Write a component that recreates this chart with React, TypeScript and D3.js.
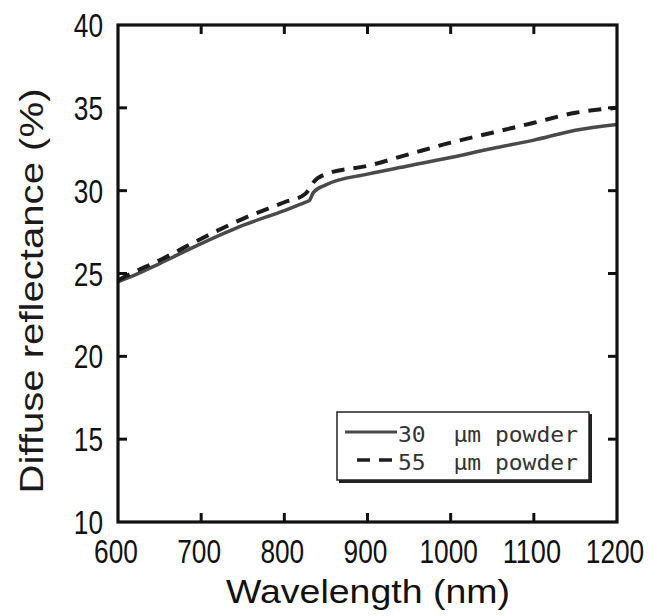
import React from "react";
import * as d3 from "d3";

const wavelengths = [600, 620, 650, 700, 750, 800, 825, 830, 835, 850, 900, 950, 1000, 1050, 1100, 1150, 1200];
const powder30 = [24.5, 24.9, 25.6, 26.8, 27.9, 28.8, 29.3, 29.4, 29.9, 30.35, 31.0, 31.5, 32.0, 32.55, 33.05, 33.65, 34.0];
const powder55 = [24.6, 25.1, 25.8, 27.1, 28.3, 29.3, 29.8, 30.1, 30.5, 31.0, 31.5, 32.2, 32.9, 33.5, 34.1, 34.7, 35.0];
const xTicks = [600, 700, 800, 900, 1000, 1100, 1200];
const yTicks = [10, 15, 20, 25, 30, 35, 40];
const seriesNames = ["30  μm powder", "55  μm powder"];

const W = 651;
const H = 616;
const L = 118, R = 617, T = 25, B = 522;

export default function App() {
  const x = d3.scaleLinear().domain([600, 1200]).range([L, R]);
  const y = d3.scaleLinear().domain([10, 40]).range([B, T]);
  const line = d3
    .line<[number, number]>()
    .x((d) => x(d[0]))
    .y((d) => y(d[1]))
    .curve(d3.curveMonotoneX);
  const d30 = line(wavelengths.map((w, i) => [w, powder30[i]] as [number, number])) || "";
  const d55 = line(wavelengths.map((w, i) => [w, powder55[i]] as [number, number])) || "";
  const tickLen = 9;
  const tickFont = "'Liberation Sans', Arial, sans-serif";
  const digitW = 14.6;

  return (
    <svg
      width={W}
      height={H}
      style={{ position: "absolute", left: 0, top: 0, background: "#fff" }}
    >
      <rect x={0} y={0} width={W} height={H} fill="#fff" />
      <defs>
        <clipPath id="plot">
          <rect x={L} y={T} width={R - L} height={B - T} />
        </clipPath>
      </defs>
      {/* lines */}
      <g clipPath="url(#plot)">
        <path d={d30} fill="none" stroke="#4a4a4a" strokeWidth={3.5} />
        <path d={d55} fill="none" stroke="#1c1c1c" strokeWidth={4} strokeDasharray="13 9" />
      </g>
      {/* ticks */}
      {xTicks.slice(1, -1).map((t) => (
        <g key={"xt" + t}>
          <line x1={x(t)} x2={x(t)} y1={B} y2={B - tickLen} stroke="#111" strokeWidth={3} />
          <line x1={x(t)} x2={x(t)} y1={T} y2={T + tickLen} stroke="#111" strokeWidth={3} />
        </g>
      ))}
      {yTicks.slice(1, -1).map((t) => (
        <g key={"yt" + t}>
          <line x1={L} x2={L + tickLen} y1={y(t)} y2={y(t)} stroke="#111" strokeWidth={3} />
          <line x1={R} x2={R - tickLen} y1={y(t)} y2={y(t)} stroke="#111" strokeWidth={3} />
        </g>
      ))}
      {/* frame */}
      <rect x={L} y={T} width={R - L} height={B - T} fill="none" stroke="#111" strokeWidth={3.2} />
      {/* tick labels */}
      {yTicks.map((t) => (
        <text
          key={"yl" + t}
          x={103}
          y={y(t) + 12}
          textAnchor="end"
          fontFamily={tickFont}
          fontSize={34}
          fill="#111"
          textLength={String(t).length * digitW}
          lengthAdjust="spacingAndGlyphs"
        >
          {t}
        </text>
      ))}
      {xTicks.map((t) => (
        <text
          key={"xl" + t}
          x={x(t) - 2}
          y={563}
          textAnchor="middle"
          fontFamily={tickFont}
          fontSize={34}
          fill="#111"
          textLength={String(t).length * digitW}
          lengthAdjust="spacingAndGlyphs"
        >
          {t}
        </text>
      ))}
      {/* axis titles */}
      <text
        transform={`translate(43, 291) rotate(-90)`}
        textAnchor="middle"
        fontFamily="'Liberation Sans', Arial, sans-serif"
        fontSize={34}
        fill="#1a1a1a"
        textLength={405}
        lengthAdjust="spacingAndGlyphs"
      >
        Diffuse reflectance (%)
      </text>
      <text
        x={368}
        y={603}
        textAnchor="middle"
        fontFamily="'Liberation Sans', Arial, sans-serif"
        fontSize={33}
        fill="#111"
        textLength={284}
        lengthAdjust="spacingAndGlyphs"
      >
        Wavelength (nm)
      </text>
      {/* legend */}
      <rect x={339} y={414} width={253} height={69} fill="#222" />
      <rect x={337} y={412} width={252} height={68} fill="#fff" stroke="#222" strokeWidth={1.5} />
      <line x1={345} x2={397} y1={432} y2={432} stroke="#4a4a4a" strokeWidth={3} />
      <line x1={357} x2={393} y1={460} y2={460} stroke="#1c1c1c" strokeWidth={3.5} strokeDasharray="13 9" />
      <text
        x={398}
        y={442}
        fontFamily="'DejaVu Sans Mono', monospace"
        fontSize={22}
        fill="#333"
        textLength={180}
        lengthAdjust="spacingAndGlyphs"
        style={{ whiteSpace: "pre" }}
      >
        {seriesNames[0]}
      </text>
      <text
        x={398}
        y={470}
        fontFamily="'DejaVu Sans Mono', monospace"
        fontSize={22}
        fill="#333"
        textLength={180}
        lengthAdjust="spacingAndGlyphs"
        style={{ whiteSpace: "pre" }}
      >
        {seriesNames[1]}
      </text>
    </svg>
  );
}
